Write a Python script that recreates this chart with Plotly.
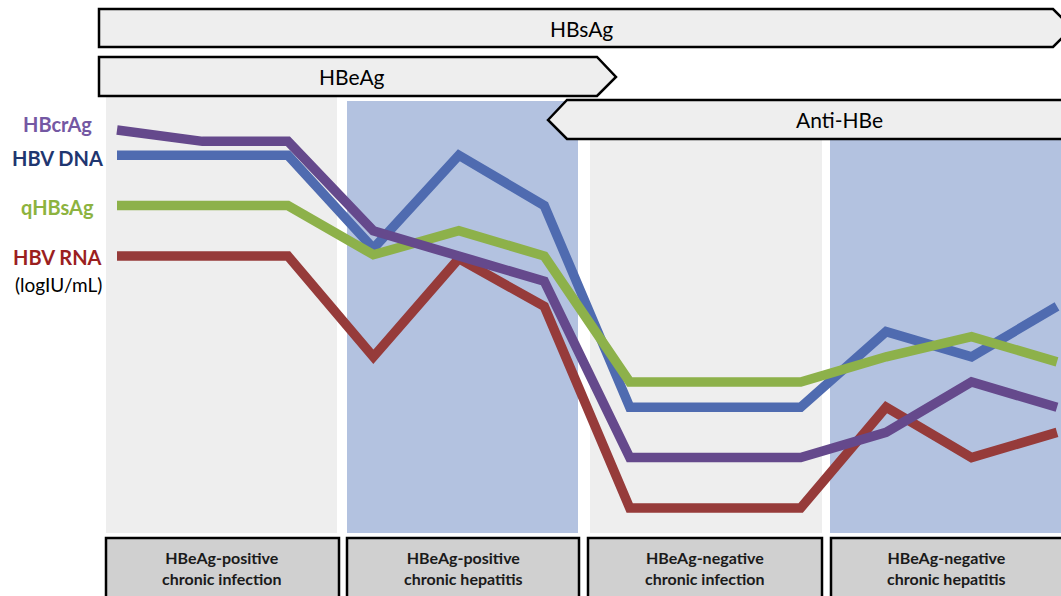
import plotly.graph_objects as go

W, H = 1061, 596

# ---- data (relative log levels) ----
timepoints = list(range(12))
hbcrag = [16, 15.55, 15.55, 12, 11, 10, 3, 3, 3, 4, 6, 5]
hbv_dna = [15, 15, 15, 11.3, 15, 13, 5, 5, 5, 8, 7, 9]
qhbsag = [13, 13, 13, 11.05, 12, 11, 6, 6, 6, 7, 7.8, 6.8]
hbv_rna = [11, 11, 11, 7, 10.9, 9, 1, 1, 1, 5, 3, 4]

series_names = ["HBV DNA", "HBV RNA", "qHBsAg", "HBcrAg"]
series_values = [hbv_dna, hbv_rna, qhbsag, hbcrag]
series_colors = ["#4f6bb0", "#963b3a", "#8db14a", "#65498c"]

phase_labels = ["HBeAg-positive<br>chronic infection",
                "HBeAg-positive<br>chronic hepatitis",
                "HBeAg-negative<br>chronic infection",
                "HBeAg-negative<br>chronic hepatitis"]

marker_labels = ["HBcrAg", "HBV DNA", "qHBsAg", "HBV RNA"]
marker_label_colors = ["#7458a3", "#1f3670", "#8db33f", "#9b1f1f"]

FONT = "Lato, 'Open Sans', sans-serif"


def px(x):
    return x / W


def py(y):
    return 1 - y / H


def path(points):
    return "M " + " L ".join(f"{px(x):.5f},{py(y):.5f}" for x, y in points) + " Z"


fig = go.Figure()
for name, vals, col in zip(series_names, series_values, series_colors):
    fig.add_trace(go.Scatter(x=timepoints, y=vals, mode="lines", name=name,
                             line=dict(color=col, width=9.5), hoverinfo="skip"))

shapes = []
# background phase bands
bands = [(106, 337, 97, "#eeeeee"), (347, 578, 101, "#b3c2e0"),
         (590, 822, 139, "#eeeeee"), (830, 1061, 139, "#b3c2e0")]
for x0, x1, y0, c in bands:
    shapes.append(dict(type="rect", xref="paper", yref="paper", layer="below",
                       x0=px(x0), x1=px(x1), y0=py(533), y1=py(y0),
                       fillcolor=c, line=dict(width=0)))

# arrow bars
arrows = [
    [(99, 9), (1053, 9), (1072, 28), (1053, 47), (99, 47)],
    [(99, 57), (597, 57), (616, 77), (597, 96), (99, 96)],
    [(548, 120), (567, 100), (1080, 100), (1080, 139), (567, 139)],
]
for pts in arrows:
    shapes.append(dict(type="path", xref="paper", yref="paper", path=path(pts),
                       fillcolor="#eeeeee", line=dict(color="black", width=2.5)))

# bottom phase boxes
boxes = [(106, 339), (347, 579), (588, 822), (831, 1065)]
for x0, x1 in boxes:
    shapes.append(dict(type="rect", xref="paper", yref="paper",
                       x0=px(x0), x1=px(x1), y0=py(610), y1=py(538),
                       fillcolor="#d0d0d0", line=dict(color="black", width=2.5)))

annotations = []
label_cx = [222, 463, 705, 946]
for txt, cx in zip(phase_labels, label_cx):
    annotations.append(dict(text=txt, x=px(cx), y=py(568), xref="paper", yref="paper",
                            showarrow=False,
                            font=dict(family=FONT, size=16, color="#1a1a1a", weight="bold"),
                            xanchor="center", yanchor="middle", align="center"))

for txt, cx, cy in [("HBsAg", 581, 29), ("HBeAg", 352, 77), ("Anti-HBe", 839, 120)]:
    annotations.append(dict(text=txt, x=px(cx), y=py(cy), xref="paper", yref="paper",
                            showarrow=False, font=dict(family=FONT, size=21, color="black"),
                            xanchor="center", yanchor="middle"))

label_y = [124, 158, 207, 257]
for txt, col, ly in zip(marker_labels, marker_label_colors, label_y):
    annotations.append(dict(text=txt, x=px(57), y=py(ly), xref="paper", yref="paper",
                            showarrow=False,
                            font=dict(family=FONT, size=20, color=col, weight="bold"),
                            xanchor="center", yanchor="middle"))
annotations.append(dict(text="(logIU/mL)", x=px(58), y=py(284), xref="paper", yref="paper",
                        showarrow=False, font=dict(family=FONT, size=19, color="black"),
                        xanchor="center", yanchor="middle"))

step_x = (1057 - 117) / 11
step_y = 25.2
fig.update_layout(
    width=W, height=H, margin=dict(l=0, r=0, t=0, b=0),
    paper_bgcolor="white", plot_bgcolor="rgba(0,0,0,0)",
    showlegend=False, shapes=shapes, annotations=annotations,
    xaxis=dict(range=[-117 / step_x, (W - 117) / step_x], visible=False, fixedrange=True),
    yaxis=dict(range=[16 - (H - 130) / step_y, 16 + 130 / step_y], visible=False, fixedrange=True),
)

fig.write_html("out.html", config={"displayModeBar": False},
               post_script="document.body.style.margin='0';document.body.style.overflow='hidden';")
